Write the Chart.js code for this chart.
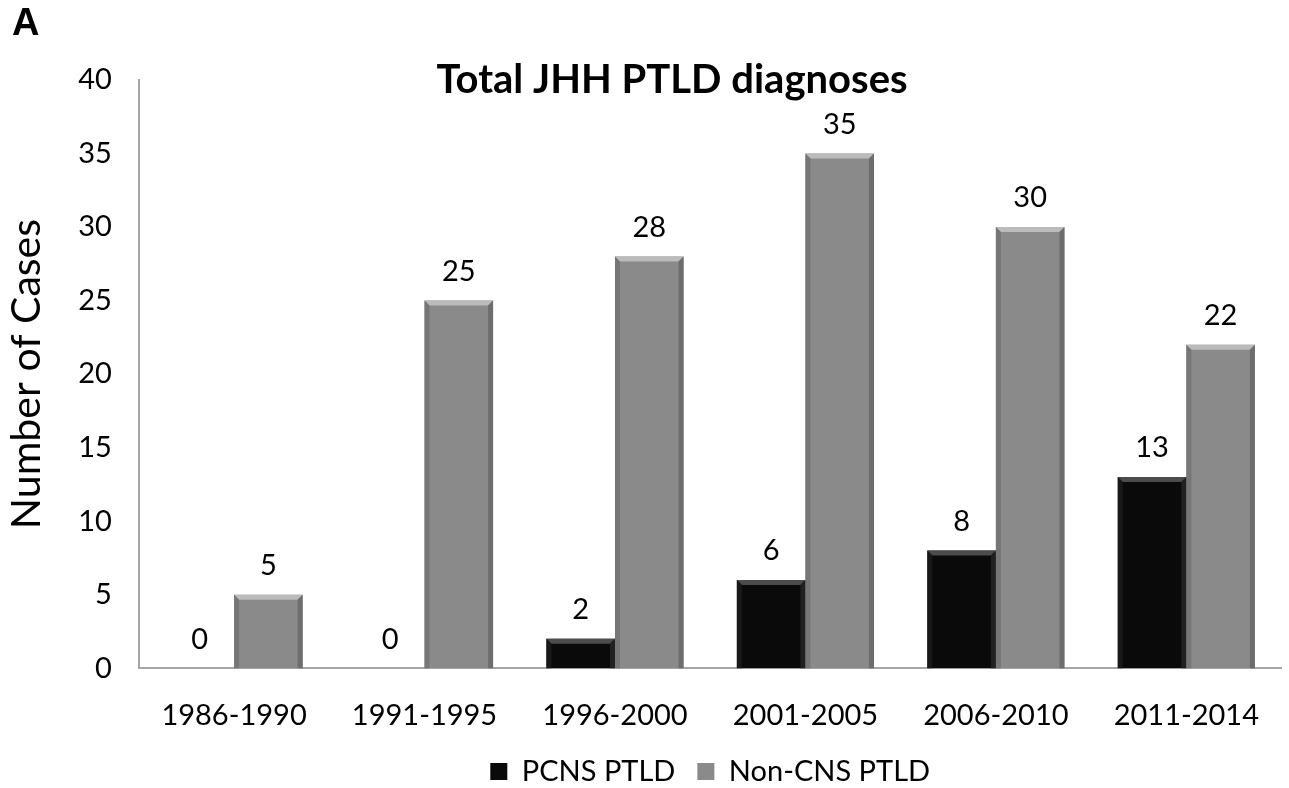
<!DOCTYPE html>
<html><head><meta charset="utf-8">
<script src="https://cdn.jsdelivr.net/npm/chart.js@4/dist/chart.umd.min.js"></script>
<style>html,body{margin:0;padding:0;background:#fff}#wrap{position:relative;width:1289px;height:788px}</style>
</head><body><div id="wrap"><canvas id="c" width="1289" height="788"></canvas></div>
<script>
const categories = ["1986-1990","1991-1995","1996-2000","2001-2005","2006-2010","2011-2014"];
const pcnsPTLD = [0, 0, 2, 6, 8, 13];
const nonCnsPTLD = [5, 25, 28, 35, 30, 22];
const seriesNames = ["PCNS PTLD", "Non-CNS PTLD"];
const yTicks = [0,5,10,15,20,25,30,35,40];
const FONT = "Lato, 'Open Sans', sans-serif";

const extras = {
  id: 'extras',
  afterDatasetsDraw(chart) {
    const ctx = chart.ctx;
    ctx.save();
    chart.data.datasets.forEach((ds, di) => {
      const meta = chart.getDatasetMeta(di);
      meta.data.forEach((bar, i) => {
        const v = ds.data[i];
        if (!v) return;
        const w = bar.width, x0 = bar.x - w/2, y0 = bar.y, y1 = bar.base;
        const b = 5;
        ctx.fillStyle = di === 0 ? 'rgba(80,80,80,0.95)' : 'rgba(190,190,190,0.95)';
        ctx.beginPath();
        ctx.moveTo(x0, y0); ctx.lineTo(x0 + w, y0); ctx.lineTo(x0 + w - b, y0 + b); ctx.lineTo(x0 + b, y0 + b); ctx.closePath(); ctx.fill();
        ctx.fillStyle = di === 0 ? 'rgba(35,35,35,0.9)' : 'rgba(105,105,105,0.9)';
        ctx.beginPath();
        ctx.moveTo(x0 + w, y0); ctx.lineTo(x0 + w, y1); ctx.lineTo(x0 + w - b, y1); ctx.lineTo(x0 + w - b, y0 + b); ctx.closePath(); ctx.fill();
        ctx.fillStyle = di === 0 ? 'rgba(25,25,25,0.9)' : 'rgba(115,115,115,0.9)';
        ctx.beginPath();
        ctx.moveTo(x0, y0); ctx.lineTo(x0 + b, y0 + b); ctx.lineTo(x0 + b, y1); ctx.lineTo(x0, y1); ctx.closePath(); ctx.fill();
      });
    });
    ctx.fillStyle = '#000';
    ctx.font = '29px ' + FONT;
    ctx.textAlign = 'center';
    ctx.textBaseline = 'middle';
    chart.data.datasets.forEach((ds, di) => {
      const meta = chart.getDatasetMeta(di);
      meta.data.forEach((bar, i) => {
        ctx.fillText(String(ds.data[i]), bar.x, bar.y - 29);
      });
    });
    ctx.font = 'bold 40px ' + FONT;
    ctx.fillText('Total JHH PTLD diagnoses', 672, 80);
    ctx.font = 'bold 38px Arial, "Liberation Sans", sans-serif';
    ctx.textAlign = 'left';
    ctx.fillText('A', 12, 25);
    ctx.restore();
  }
};

new Chart(document.getElementById('c'), {
  type: 'bar',
  data: {
    labels: categories,
    datasets: [
      { label: seriesNames[0], data: pcnsPTLD, backgroundColor: '#0a0a0a', borderWidth: 0 },
      { label: seriesNames[1], data: nonCnsPTLD, backgroundColor: '#8a8a8a', borderWidth: 0 }
    ]
  },
  options: {
    responsive: false,
    animation: false,
    layout: { padding: { left: 2, right: 0, top: 80, bottom: -8 } },
    datasets: { bar: { categoryPercentage: 0.72, barPercentage: 1.0 } },
    plugins: {
      legend: {
        position: 'bottom',
        fullSize: false,
        labels: { font: { family: FONT, size: 29 }, color: '#000', boxWidth: 17, boxHeight: 17, padding: 22 }
      },
      tooltip: { enabled: false },
      title: { display: false }
    },
    scales: {
      x: {
        grid: { display: false, drawTicks: false },
        border: { color: '#a6a6a6', width: 2 },
        ticks: { font: { family: FONT, size: 29 }, color: '#000', padding: 30 },
        afterFit(scale) { scale.height = scale.height - 28; }
      },
      y: {
        min: 0, max: 40,
        afterBuildTicks(axis) { axis.ticks = yTicks.map(v => ({ value: v })); },
        grid: { display: false, drawTicks: false },
        border: { color: '#a6a6a6', width: 2 },
        ticks: { font: { family: FONT, size: 29 }, color: '#000', padding: 27 },
        title: { display: true, text: 'Number of Cases', font: { family: FONT, size: 41 }, color: '#000', padding: { top: 0, bottom: 0 } }
      }
    }
  },
  plugins: [extras]
});
</script></body></html>
